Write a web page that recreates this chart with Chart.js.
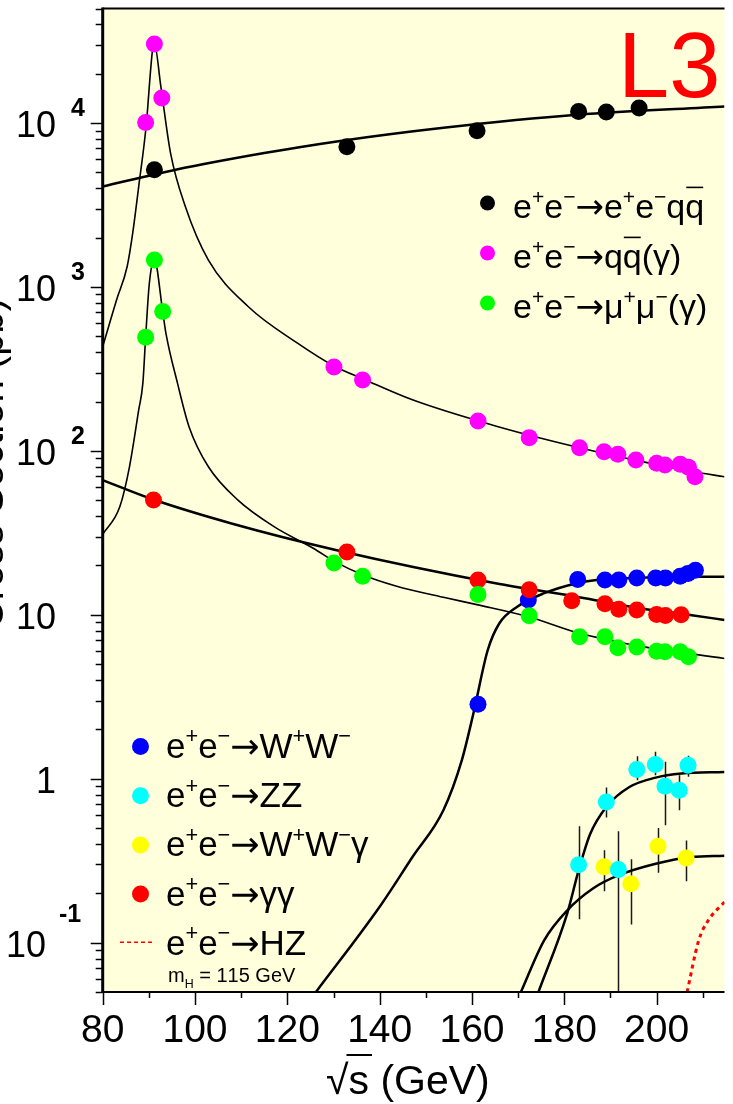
<!DOCTYPE html>
<html>
<head>
<meta charset="utf-8">
<script src="https://cdn.jsdelivr.net/npm/chart.js@4"></script>
<style>
  html, body { margin: 0; padding: 0; background: #fff; overflow: hidden; }
  #wrap { width: 733px; height: 1104px; }
</style>
</head>
<body>
<div id="wrap"><canvas id="xsec" width="733" height="1104"></canvas></div>
<script>
// --- measured points (sqrt(s) in GeV, cross section in pb) ---
const eeqqE = [91.2, 132.9, 161.1, 183.1, 189.1, 196.2];
const eeqqX = [5190, 7160, 8970, 11780, 11670, 12350];

const qqE = [89.3, 91.2, 92.8, 130.1, 136.3, 161.3, 172.4, 183.3, 188.6, 191.6, 195.5, 200.0, 201.8, 205.1, 206.9, 208.3];
const qqX = [10090, 30350, 14200, 325, 271, 152, 120.5, 104.6, 98.9, 95.3, 87.9, 84, 82, 83, 79.4, 69.5];

const mumuE = [89.3, 91.2, 93.0, 130.1, 136.3, 161.3, 172.4, 183.3, 188.8, 191.6, 195.7, 200.0, 201.8, 205.1, 206.9];
const mumuX = [493, 1463, 708, 20.7, 17.2, 13.3, 9.86, 7.35, 7.35, 6.29, 6.37, 6.0, 5.95, 5.95, 5.55];

const ggE = [91.0, 132.9, 161.3, 172.4, 181.6, 188.8, 191.8, 195.7, 200.0, 201.9, 205.3];
const ggX = [50.1, 24.2, 16.3, 14.2, 12.2, 11.7, 10.8, 10.7, 10.05, 9.9, 10.0];

const wwE = [161.3, 172.2, 182.9, 188.8, 191.8, 195.7, 199.8, 201.9, 205.1, 206.8, 208.4];
const wwX = [2.85, 12.3, 16.4, 16.3, 16.3, 16.8, 16.8, 16.8, 17.2, 17.9, 18.7];

const zzE  = [183.1, 189.1, 191.7, 195.7, 199.7, 201.8, 204.9, 206.8];
const zzX  = [0.299, 0.721, 0.279, 1.14, 1.22, 0.90, 0.85, 1.21];
const zzLo = [0.139, 0.58, 0.05, 0.98, 1.05, 0.52, 0.643, 1.03];
const zzHi = [0.513, 0.883, 0.479, 1.37, 1.46, 1.27, 1.05, 1.38];

const wwgE  = [188.6, 194.4, 200.3, 206.4];
const wwgX  = [0.29, 0.229, 0.387, 0.329];
const wwgLo = [0.206, 0.129, 0.267, 0.237];
const wwgHi = [0.366, 0.323, 0.50, 0.42];

// --- theory curves ---
const eeqqCurveE = [80, 95.8, 115, 130.7, 154.3, 182.7, 214.7];
const eeqqCurveX = [4100, 5190, 6560, 7730, 9400, 11240, 12630];

const qqCurveE = [80, 83, 85.3, 86.5, 87.8, 89.4, 90.8, 91.2, 92.6, 94.7, 97.9, 102.9, 111.5, 122.2, 130.3, 136.4, 147.1, 165.1, 183.3, 196.9, 208, 214.7];
const qqCurveX = [433, 834, 1333, 2130, 4100, 9530, 28000, 30500, 16700, 6560, 3100, 1460, 760, 454, 327, 275, 205, 142, 104.6, 86, 74.6, 69.6];

const mumuCurveE = [80, 83.7, 85.8, 87.8, 88.7, 89.3, 90.1, 91.2, 93.0, 93.7, 96.2, 98.7, 102.9, 109.3, 117.2, 125.7, 130.3, 136.4, 143.5, 154.3, 161.3, 172.4, 182.7, 189.8, 196.9, 214.7];
const mumuCurveX = [31, 45.6, 80, 177.8, 259, 493, 1050, 1463, 708, 522, 259, 140.6, 80, 50.1, 34.4, 25.4, 21.1, 17.5, 15.0, 12.7, 11.5, 9.7, 7.8, 7.0, 6.4, 5.42];

const ggCurveE = [80, 90.8, 107.9, 130.7, 165.1, 182.7, 196.9, 207.6, 214.7];
const ggCurveX = [66.4, 50.7, 36.1, 24.8, 15.6, 12.9, 10.9, 9.95, 9.3];

const wwCurveE = [126.2, 139.96, 147.1, 153.8, 157.8, 160.3, 163.4, 165.9, 169.8, 175.5, 182.7, 187, 195, 205, 214.7];
const wwCurveX = [0.05, 0.165, 0.333, 0.643, 1.30, 2.5, 6.08, 8.85, 11.2, 13.5, 15.6, 16.3, 16.8, 17.1, 17.1];

const zzCurveE = [174.4, 180.6, 183.1, 185.6, 189.1, 194.1, 199.8, 205.4, 214.7];
const zzCurveX = [0.05, 0.150, 0.276, 0.46, 0.673, 0.89, 1.016, 1.076, 1.10];

const wwgCurveE = [170.6, 175.6, 180.6, 186.2, 191.8, 199.8, 207.5, 214.7];
const wwgCurveX = [0.05, 0.103, 0.157, 0.214, 0.258, 0.303, 0.333, 0.339];

const hzCurveE = [206.6, 209.1, 211.2, 214.7];
const hzCurveX = [0.05, 0.103, 0.137, 0.177];

// --- axis labels / legend texts ---
const xTickLabels = [80, 100, 120, 140, 160, 180, 200];
const yTickValues = [0.1, 1, 10, 100, 1000, 10000];
const yTickBases  = ['10', '1', '10', '10', '10', '10'];
const yTickExps   = ['-1', '', '', '2', '3', '4'];

// ^ = superscript, _ = subscript, ~ = overline (applies to next char)
const legendTopLabels  = ['e^+e^−→e^+e^−q~q', 'e^+e^−→q~q(γ)', 'e^+e^−→μ^+μ^−(γ)'];
const legendTopColors  = ['#000000', '#ff00ff', '#00ff00'];
const legendLowLabels  = ['e^+e^−→W^+W^−', 'e^+e^−→ZZ', 'e^+e^−→W^+W^−γ', 'e^+e^−→γγ', 'e^+e^−→HZ'];
const legendLowColors  = ['#0000ff', '#00ffff', '#ffff00', '#ff0000', null];
const higgsNote = 'm_H = 115 GeV';

const FONT = '"Liberation Sans", Arial, Helvetica, sans-serif';
const ARROW_FONT = '"DejaVu Sans", sans-serif';

function pts(xs, ys) { return xs.map((x, i) => ({ x: x, y: ys[i] })); }

function markers(label, xs, ys, color) {
  return {
    label, data: pts(xs, ys), showLine: false,
    pointRadius: 8.5, pointHoverRadius: 8.5, pointBorderWidth: 0,
    pointBackgroundColor: color, backgroundColor: color, order: 0
  };
}

function curve(label, xs, ys, width, color, dash) {
  return {
    label, data: pts(xs, ys), showLine: true, pointRadius: 0,
    borderColor: color, borderWidth: width, borderDash: dash || [],
    cubicInterpolationMode: 'monotone', fill: false, order: 1
  };
}

// draws e^+e^- style text, returns end x
function rich(ctx, str, x, y, size) {
  let cx = x;
  ctx.textAlign = 'left';
  ctx.textBaseline = 'alphabetic';
  for (let i = 0; i < str.length; i++) {
    let ch = str[i], kind = '';
    if ((ch === '^' || ch === '_' || ch === '~') && i + 1 < str.length) { kind = ch; ch = str[++i]; }
    let fs = size, dy = 0;
    if (kind === '^') { fs = size * 0.62; dy = -size * 0.42; }
    if (kind === '_') { fs = size * 0.62; dy = size * 0.28; }
    ctx.font = fs + 'px ' + (ch === '→' ? ARROW_FONT : FONT);
    ctx.fillText(ch, cx, y + dy);
    const w = ctx.measureText(ch).width;
    if (kind === '~') {
      ctx.save();
      ctx.lineWidth = 1.6;
      ctx.beginPath();
      ctx.moveTo(cx + 1, y - size * 0.9);
      ctx.lineTo(cx + w - 1, y - size * 0.9);
      ctx.stroke();
      ctx.restore();
    }
    cx += w;
  }
  return cx;
}

function seg(ctx, x1, y1, x2, y2) {
  ctx.beginPath(); ctx.moveTo(x1, y1); ctx.lineTo(x2, y2); ctx.stroke();
}

const frame = {
  id: 'frame',
  beforeDraw(chart) {
    const { ctx, chartArea: a } = chart;
    ctx.save();
    ctx.fillStyle = '#ffffdb';
    ctx.fillRect(a.left, a.top, a.right - a.left, a.bottom - a.top);
    ctx.restore();
  },
  beforeDatasetsDraw(chart) {
    const { ctx, chartArea: a, scales: { x, y } } = chart;
    ctx.save();
    ctx.beginPath();
    ctx.rect(a.left, a.top, a.right - a.left, a.bottom - a.top);
    ctx.clip();
    ctx.strokeStyle = '#1a1a1a';
    ctx.lineWidth = 1.5;
    [[zzE, zzLo, zzHi], [wwgE, wwgLo, wwgHi]].forEach(([es, lo, hi]) => {
      es.forEach((e, i) => {
        const px = Math.round(x.getPixelForValue(e)) + 0.5;
        seg(ctx, px, y.getPixelForValue(lo[i]), px, y.getPixelForValue(hi[i]));
      });
    });
    ctx.restore();
  },
  afterDraw(chart) {
    const { ctx, chartArea: a, scales: { x, y } } = chart;
    ctx.save();
    ctx.strokeStyle = '#000';
    ctx.fillStyle = '#000';

    // frame lines
    ctx.lineWidth = 2;
    seg(ctx, a.left, a.top, a.right, a.top);
    seg(ctx, a.left, a.bottom, a.right, a.bottom);
    ctx.lineWidth = 3;
    seg(ctx, a.left, a.top - 1, a.left, a.bottom + 1);

    // y ticks
    ctx.lineWidth = 1.5;
    for (let d = -2; d <= 4; d++) {
      for (let m = 1; m <= 9; m++) {
        const v = m * Math.pow(10, d);
        if (v < 0.0499 || v > 50001) continue;
        const py = Math.round(y.getPixelForValue(v)) + 0.5;
        seg(ctx, a.left - (m === 1 ? 12 : 7), py, a.left, py);
      }
    }
    // x ticks
    for (let v = 80; v <= x.max; v += 10) {
      const px = Math.round(x.getPixelForValue(v)) + 0.5;
      seg(ctx, px, a.bottom, px, a.bottom + (v % 20 === 0 ? 13 : 6));
    }

    // x tick labels
    ctx.textAlign = 'center';
    ctx.textBaseline = 'alphabetic';
    ctx.font = '39px ' + FONT;
    xTickLabels.forEach(v => ctx.fillText(String(v), x.getPixelForValue(v), 1042));

    // y tick labels
    yTickValues.forEach((v, i) => {
      const py = y.getPixelForValue(v);
      const neg = yTickExps[i].startsWith('-');
      ctx.textAlign = 'right';
      ctx.font = '36px ' + FONT;
      ctx.fillText(yTickBases[i], neg ? 46 : 56, py + 14);
      if (yTickExps[i]) {
        ctx.textAlign = 'left';
        ctx.font = 'bold 25px ' + FONT;
        ctx.fillText(yTickExps[i], neg ? 59 : 71, neg ? py - 20.5 : py - 7);
      }
    });

    // x title
    ctx.font = '41px ' + FONT;
    ctx.textAlign = 'left';
    const rootW = ctx.measureText('√').width;
    ctx.fillText('√', 326, 1094);
    const sW = ctx.measureText('s').width;
    ctx.fillText('s (GeV)', 326 + rootW, 1094);
    ctx.lineWidth = 2;
    seg(ctx, 326 + rootW - 2, 1055, 326 + rootW + sW + 3, 1055);

    // y title (mostly outside the picture)
    ctx.save();
    ctx.translate(3, 298);
    ctx.rotate(-Math.PI / 2);
    ctx.textAlign = 'right';
    ctx.font = '40px ' + FONT;
    ctx.fillText('Cross Section (pb)', 0, 0);
    ctx.restore();

    // L3 logo
    ctx.fillStyle = '#ff0000';
    ctx.font = '92px ' + FONT;
    ctx.textAlign = 'left';
    ctx.fillText('L3', 618, 97);

    // top-right legend
    legendTopLabels.forEach((t, i) => {
      const base = 218 + i * 50;
      ctx.fillStyle = legendTopColors[i];
      ctx.beginPath(); ctx.arc(487.5, base - 15, 7.5, 0, Math.PI * 2); ctx.fill();
      ctx.fillStyle = '#000'; ctx.strokeStyle = '#000';
      rich(ctx, t, 513, base, 34);
    });

    // lower-left legend
    legendLowLabels.forEach((t, i) => {
      const base = 758 + i * 49.2;
      if (legendLowColors[i]) {
        ctx.fillStyle = legendLowColors[i];
        ctx.beginPath(); ctx.arc(140.5, base - 11.5, 8.5, 0, Math.PI * 2); ctx.fill();
      } else {
        ctx.strokeStyle = '#ff0000';
        ctx.lineWidth = 1.5;
        ctx.setLineDash([4, 3]);
        seg(ctx, 120, base - 12.5, 154, base - 12.5);
        ctx.setLineDash([]);
      }
      ctx.fillStyle = '#000'; ctx.strokeStyle = '#000';
      rich(ctx, t, 166, base, 35);
    });
    ctx.fillStyle = '#000';
    rich(ctx, higgsNote, 168, 982, 20);

    ctx.restore();
  }
};

new Chart(document.getElementById('xsec'), {
  type: 'scatter',
  data: {
    datasets: [
      markers('e+e- -> e+e-qq', eeqqE, eeqqX, '#000000'),
      markers('e+e- -> qq(g)', qqE, qqX, '#ff00ff'),
      markers('e+e- -> mumu(g)', mumuE, mumuX, '#00ff00'),
      markers('e+e- -> gg', ggE, ggX, '#ff0000'),
      markers('e+e- -> WW', wwE, wwX, '#0000ff'),
      markers('e+e- -> ZZ', zzE, zzX, '#00ffff'),
      markers('e+e- -> WWg', wwgE, wwgX, '#ffff00'),
      curve('eeqq theory', eeqqCurveE, eeqqCurveX, 2.5, '#000'),
      curve('qq theory', qqCurveE, qqCurveX, 1.6, '#000'),
      curve('mumu theory', mumuCurveE, mumuCurveX, 1.6, '#000'),
      curve('gg theory', ggCurveE, ggCurveX, 2.5, '#000'),
      curve('WW theory', wwCurveE, wwCurveX, 2.5, '#000'),
      curve('ZZ theory', zzCurveE, zzCurveX, 2.5, '#000'),
      curve('WWg theory', wwgCurveE, wwgCurveX, 2.5, '#000'),
      curve('HZ theory', hzCurveE, hzCurveX, 3, '#ff0000', [4, 4])
    ]
  },
  options: {
    responsive: false,
    animation: false,
    events: [],
    layout: { padding: { left: 102.7, right: 0, top: 8, bottom: 112 } },
    scales: {
      x: { type: 'linear', display: false, min: 80, max: 214.7 },
      y: { type: 'logarithmic', display: false, min: 0.05, max: 50000 }
    },
    plugins: { legend: { display: false }, tooltip: { enabled: false } }
  },
  plugins: [frame]
});
</script>
</body>
</html>
